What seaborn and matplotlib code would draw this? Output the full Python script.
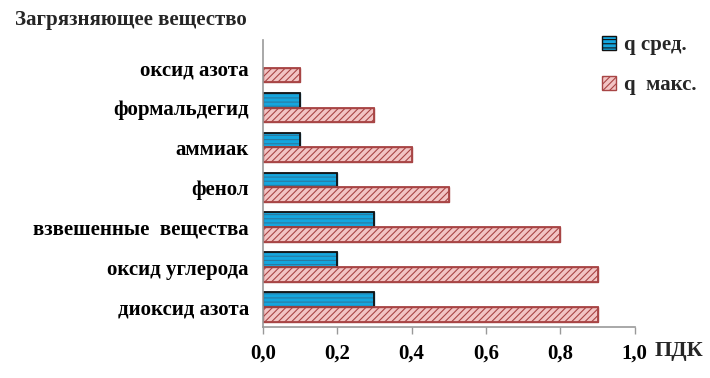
"""Горизонтальная диаграмма: q сред. и q макс. по загрязняющим веществам."""

import matplotlib

matplotlib.use("Agg")
import matplotlib.pyplot as plt
import numpy as np
import pandas as pd
import seaborn as sns
from matplotlib.patches import Rectangle
from matplotlib.ticker import FuncFormatter

VESHCHESTVA = [
    "оксид азота",
    "формальдегид",
    "аммиак",
    "фенол",
    "взвешенные  вещества",
    "оксид углерода",
    "диоксид азота",
]
Q_SRED = [np.nan, 0.1, 0.1, 0.2, 0.3, 0.2, 0.3]
Q_MAKS = [0.1, 0.3, 0.4, 0.5, 0.8, 0.9, 0.9]
SERII = ["q сред.", "q  макс."]

sns.set_theme(style="white")
plt.rcParams["font.family"] = ["Liberation Serif", "DejaVu Serif"]
plt.rcParams["font.weight"] = "bold"
plt.rcParams["hatch.linewidth"] = 0.8

df = pd.DataFrame(
    {
        "vesh": VESHCHESTVA * 2,
        "q": Q_SRED + Q_MAKS,
        "seriya": [SERII[0]] * len(VESHCHESTVA) + [SERII[1]] * len(VESHCHESTVA),
    }
)

fig = plt.figure(figsize=(7.1, 3.78), dpi=100)
ax = fig.add_axes([0.370, 0.135, 0.524, 0.76])

sns.barplot(
    data=df, x="q", y="vesh", hue="seriya", order=VESHCHESTVA, hue_order=SERII,
    orient="h", width=0.74, gap=0, ax=ax, legend=False,
)
ax.set_ylim(6.5, -0.7)

stil = {
    SERII[0]: dict(face="#14a6de", hatch_col="#2a7aa0", edge="#111111", hatch="----"),
    SERII[1]: dict(face="#f2c4c4", hatch_col="#a84545", edge="#a84545", hatch="/////"),
}
for konteyner, seriya in zip(ax.containers, SERII):
    s = stil[seriya]
    for p in konteyner:
        if not np.isfinite(p.get_width()):
            continue
        p.set_facecolor(s["face"])
        p.set_edgecolor(s["hatch_col"])
        p.set_hatch(s["hatch"])
        p.set_linewidth(1.0)
        ax.add_patch(Rectangle(p.get_xy(), p.get_width(), p.get_height(),
                               fill=False, edgecolor=s["edge"], linewidth=1.3))

ax.set_xlim(0, 1.0)
ax.set_xticks(np.arange(0, 1.01, 0.2))
ax.xaxis.set_major_formatter(FuncFormatter(lambda v, _: f"{v:.1f}".replace(".", ",")))
ax.tick_params(axis="x", bottom=True, length=5, width=1, color="#999999",
               labelsize=15, pad=7)
ax.tick_params(axis="y", left=False, labelsize=15, pad=4)
for lab in ax.get_xticklabels() + ax.get_yticklabels():
    lab.set_fontweight("bold")
    lab.set_color("black")

for side in ["top", "right"]:
    ax.spines[side].set_visible(False)
for side in ["left", "bottom"]:
    ax.spines[side].set_color("#999999")
    ax.spines[side].set_linewidth(1.2)

ax.set_xlabel("")
ax.set_ylabel("")
fig.text(0.021, 0.948, "Загрязняющее вещество", fontsize=15, fontweight="bold",
         ha="left", va="center")
fig.text(0.922, 0.072, "ПДК", fontsize=16, fontweight="bold", ha="left", va="center")

ruchki = [
    Rectangle((0, 0), 1, 1, facecolor=stil[s]["face"], edgecolor=stil[s]["edge"],
              hatch=stil[s]["hatch"], linewidth=1.0)
    for s in SERII
]
fig.legend(ruchki, SERII, loc="upper left", bbox_to_anchor=(0.848, 0.907), frameon=False,
           prop={"size": 15, "weight": "bold"}, handlelength=0.65, handleheight=0.65,
           handletextpad=0.4, labelspacing=0.95, borderaxespad=0, borderpad=0)

fig.savefig("out.png", dpi=100)
